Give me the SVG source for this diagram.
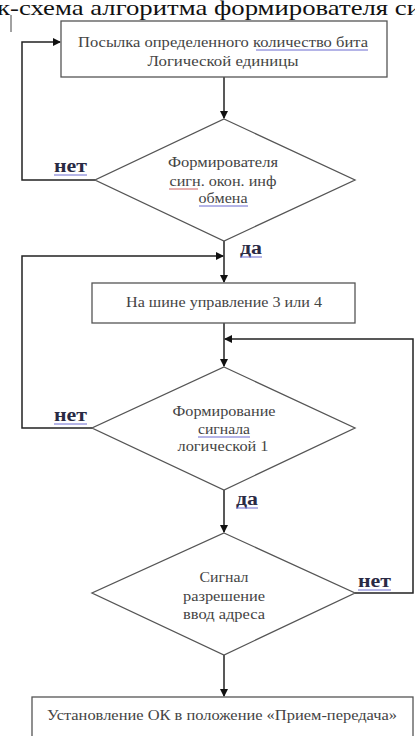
<svg xmlns="http://www.w3.org/2000/svg" width="415" height="736" viewBox="0 0 415 736">
<style>
.shape{fill:#fff;stroke:#555;stroke-width:1.3}
.ln{fill:none;stroke:#222;stroke-width:1.5}
.t{font-family:"Liberation Serif","DejaVu Serif","Times New Roman",serif;font-size:14px;fill:#444;text-anchor:middle}
.lbl{font-family:"Liberation Serif","DejaVu Serif","Times New Roman",serif;font-size:18px;font-weight:bold;fill:#2a2a44}
.ub{stroke:#6b6bd0;stroke-width:1}
.ur{stroke:#d06060;stroke-width:1}
</style>
<defs>
<marker id="ah" markerWidth="8" markerHeight="8" refX="7" refY="4" orient="auto" markerUnits="userSpaceOnUse">
<path d="M0,0 L8,4 L0,8 z" fill="#111"/>
</marker>
</defs>
<rect width="415" height="736" fill="#fff"/>
<text x="-3" y="15" style="font-family:'Liberation Serif','DejaVu Serif','Times New Roman',serif;font-size:22px;fill:#111" textLength="424" lengthAdjust="spacingAndGlyphs">к-схема алгоритма формирователя си</text>
<line x1="11" y1="15" x2="11" y2="32" stroke="#444" stroke-width="1"/>
<g id="connectors">
<polyline class="ln" points="95,180 22,180 22,42 60,42" marker-end="url(#ah)"/>
<line class="ln" x1="224" y1="77" x2="224" y2="118" marker-end="url(#ah)"/>
<line class="ln" x1="224" y1="241" x2="224" y2="282" marker-end="url(#ah)"/>
<polyline class="ln" points="92,428 22,428 22,256 223,256" marker-end="url(#ah)"/>
<line class="ln" x1="224" y1="323" x2="224" y2="366" marker-end="url(#ah)"/>
<polyline class="ln" points="355,593 413,593 413,339 225,339" marker-end="url(#ah)"/>
<line class="ln" x1="224" y1="490" x2="224" y2="532" marker-end="url(#ah)"/>
<line class="ln" x1="224" y1="655" x2="224" y2="696" marker-end="url(#ah)"/>
<text class="lbl" x="54" y="172" textLength="33" lengthAdjust="spacingAndGlyphs">нет</text>
<line class="ub" x1="54" y1="175" x2="87" y2="175"/>
<text class="lbl" x="240" y="254" textLength="22" lengthAdjust="spacingAndGlyphs">да</text>
<line class="ub" x1="240" y1="257" x2="262" y2="257"/>
<text class="lbl" x="54" y="421" textLength="33" lengthAdjust="spacingAndGlyphs">нет</text>
<line class="ub" x1="54" y1="424" x2="87" y2="424"/>
<text class="lbl" x="236" y="505" textLength="22" lengthAdjust="spacingAndGlyphs">да</text>
<line class="ub" x1="236" y1="508" x2="258" y2="508"/>
<text class="lbl" x="358" y="587" textLength="33" lengthAdjust="spacingAndGlyphs">нет</text>
<line class="ub" x1="358" y1="590" x2="391" y2="590"/>
</g>
<g id="n1">
<rect class="shape" x="61" y="21" width="326" height="56"/>
<text class="t" x="223" y="47" textLength="290" lengthAdjust="spacingAndGlyphs">Посылка определенного количество  бита</text>
<line class="ub" x1="256" y1="50" x2="368" y2="50"/>
<text class="t" x="223" y="66" textLength="151" lengthAdjust="spacingAndGlyphs">Логической  единицы</text>
</g>
<g id="n2">
<polygon class="shape" points="224,119 355,180 224,241 95,180"/>
<text class="t" x="223" y="167" textLength="110" lengthAdjust="spacingAndGlyphs">Формирователя</text>
<text class="t" x="223" y="186" textLength="107" lengthAdjust="spacingAndGlyphs">сигн. окон. инф</text>
<line class="ur" x1="169" y1="189" x2="198" y2="189"/>
<text class="t" x="223" y="203" textLength="49" lengthAdjust="spacingAndGlyphs">обмена</text>
<line class="ub" x1="199" y1="206" x2="248" y2="206"/>
</g>
<g id="n3">
<rect class="shape" x="92" y="283" width="263" height="40"/>
<text class="t" x="224" y="307" textLength="196" lengthAdjust="spacingAndGlyphs">На шине управление 3 или 4</text>
</g>
<g id="n4">
<polygon class="shape" points="224,367 355,428 224,490 92,428"/>
<text class="t" x="224" y="416" textLength="103" lengthAdjust="spacingAndGlyphs">Формирование</text>
<text class="t" x="224" y="434" textLength="52" lengthAdjust="spacingAndGlyphs">сигнала</text>
<line class="ub" x1="198" y1="437" x2="250" y2="437"/>
<text class="t" x="223" y="451" textLength="91" lengthAdjust="spacingAndGlyphs">логической 1</text>
</g>
<g id="n5">
<polygon class="shape" points="224,533 355,593 224,655 92,593"/>
<text class="t" x="224" y="582" textLength="49" lengthAdjust="spacingAndGlyphs">Сигнал</text>
<text class="t" x="224" y="601" textLength="82" lengthAdjust="spacingAndGlyphs">разрешение</text>
<text class="t" x="224" y="619" textLength="82" lengthAdjust="spacingAndGlyphs">ввод адреса</text>
</g>
<g id="n6">
<rect class="shape" x="32" y="697" width="381" height="45"/>
<text class="t" x="222" y="720" textLength="350" lengthAdjust="spacingAndGlyphs">Установление ОК в положение «Прием-передача»</text>
</g>
</svg>
